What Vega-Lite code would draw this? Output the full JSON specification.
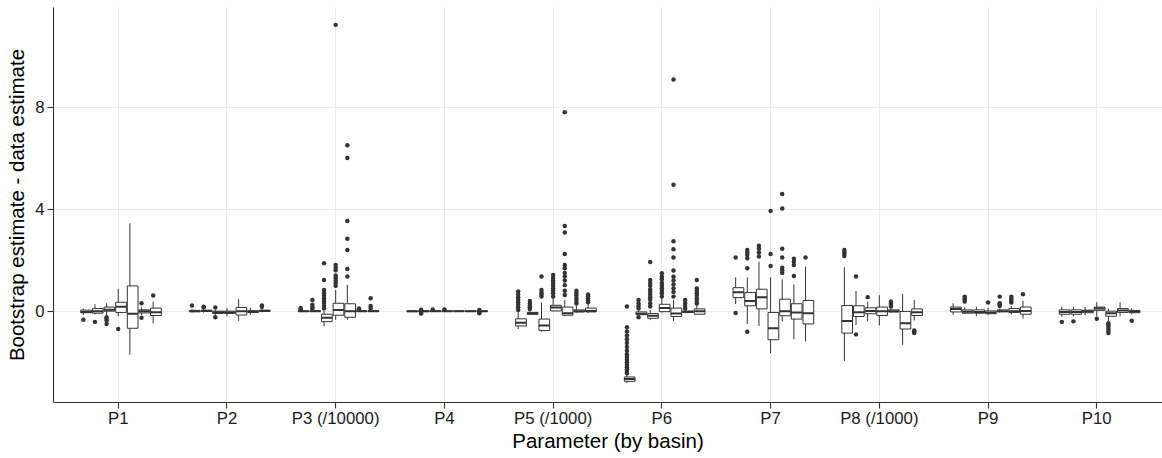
{
  "$schema": "https://vega.github.io/schema/vega-lite/v6.json",
  "width": 1109,
  "height": 395,
  "autosize": {"type": "none"},
  "padding": {"left": 53, "top": 7, "right": 0, "bottom": 56},
  "background": "white",
  "config": {
    "view": {"stroke": null},
    "font": "Liberation Sans",
    "axis": {
      "domainColor": "#333333",
      "domainWidth": 1.1,
      "tickColor": "#333333",
      "tickSize": 6,
      "tickWidth": 1.1,
      "gridColor": "#ebebeb",
      "gridWidth": 1,
      "labelColor": "#1a1a1a",
      "labelFontSize": 16.8,
      "labelFont": "Liberation Sans",
      "titleFont": "Liberation Sans",
      "titleFontSize": 20.5,
      "titleFontWeight": "normal",
      "titleColor": "#000000"
    }
  },
  "datasets": {
    "boxes": [
      {"param": "P1", "basin": "B1", "lo": -0.15, "q1": -0.06, "med": -0.03, "q3": 0.04, "hi": 0.1},
      {"param": "P1", "basin": "B2", "lo": -0.13, "q1": -0.08, "med": 0.0, "q3": 0.1, "hi": 0.27},
      {"param": "P1", "basin": "B3", "lo": -0.15, "q1": 0.0, "med": 0.06, "q3": 0.16, "hi": 0.31},
      {"param": "P1", "basin": "B4", "lo": -0.21, "q1": -0.05, "med": 0.17, "q3": 0.35, "hi": 0.87},
      {"param": "P1", "basin": "B5", "lo": -1.71, "q1": -0.67, "med": -0.1, "q3": 0.99, "hi": 3.44},
      {"param": "P1", "basin": "B6", "lo": -0.15, "q1": -0.07, "med": 0.0, "q3": 0.05, "hi": 0.15},
      {"param": "P1", "basin": "B7", "lo": -0.47, "q1": -0.17, "med": -0.04, "q3": 0.12, "hi": 0.38},
      {"param": "P2", "basin": "B1", "lo": -0.05, "q1": -0.02, "med": 0.0, "q3": 0.03, "hi": 0.08},
      {"param": "P2", "basin": "B2", "lo": -0.06, "q1": -0.01, "med": 0.01, "q3": 0.04, "hi": 0.1},
      {"param": "P2", "basin": "B3", "lo": -0.15, "q1": -0.09, "med": -0.04, "q3": 0.0, "hi": 0.05},
      {"param": "P2", "basin": "B4", "lo": -0.2, "q1": -0.09, "med": -0.05, "q3": 0.0, "hi": 0.13},
      {"param": "P2", "basin": "B5", "lo": -0.38, "q1": -0.15, "med": 0.0, "q3": 0.14, "hi": 0.47},
      {"param": "P2", "basin": "B6", "lo": -0.15, "q1": -0.05, "med": -0.02, "q3": 0.02, "hi": 0.14},
      {"param": "P2", "basin": "B7", "lo": -0.04, "q1": -0.01, "med": 0.01, "q3": 0.04, "hi": 0.1},
      {"param": "P3 (/10000)", "basin": "B1", "lo": -0.02, "q1": -0.01, "med": 0.0, "q3": 0.01, "hi": 0.03},
      {"param": "P3 (/10000)", "basin": "B2", "lo": -0.02, "q1": -0.01, "med": 0.0, "q3": 0.02, "hi": 0.05},
      {"param": "P3 (/10000)", "basin": "B3", "lo": -0.6, "q1": -0.41, "med": -0.26, "q3": -0.12, "hi": 0.0},
      {"param": "P3 (/10000)", "basin": "B4", "lo": -0.34, "q1": -0.16, "med": 0.05, "q3": 0.31, "hi": 0.83},
      {"param": "P3 (/10000)", "basin": "B5", "lo": -0.34, "q1": -0.24, "med": 0.0, "q3": 0.29, "hi": 1.03},
      {"param": "P3 (/10000)", "basin": "B6", "lo": -0.02, "q1": -0.01, "med": 0.0, "q3": 0.01, "hi": 0.03},
      {"param": "P3 (/10000)", "basin": "B7", "lo": -0.02, "q1": -0.01, "med": 0.0, "q3": 0.02, "hi": 0.05},
      {"param": "P4", "basin": "B1", "lo": -0.04, "q1": -0.02, "med": 0.0, "q3": 0.01, "hi": 0.03},
      {"param": "P4", "basin": "B2", "lo": -0.05, "q1": -0.02, "med": 0.0, "q3": 0.02, "hi": 0.04},
      {"param": "P4", "basin": "B3", "lo": -0.03, "q1": -0.01, "med": 0.0, "q3": 0.01, "hi": 0.03},
      {"param": "P4", "basin": "B4", "lo": -0.03, "q1": -0.01, "med": 0.0, "q3": 0.01, "hi": 0.03},
      {"param": "P4", "basin": "B5", "lo": -0.02, "q1": -0.01, "med": 0.0, "q3": 0.01, "hi": 0.02},
      {"param": "P4", "basin": "B6", "lo": -0.02, "q1": -0.01, "med": 0.0, "q3": 0.01, "hi": 0.02},
      {"param": "P4", "basin": "B7", "lo": -0.03, "q1": -0.01, "med": 0.0, "q3": 0.01, "hi": 0.03},
      {"param": "P5 (/1000)", "basin": "B1", "lo": -0.7, "q1": -0.58, "med": -0.45, "q3": -0.3, "hi": -0.02},
      {"param": "P5 (/1000)", "basin": "B2", "lo": -0.15, "q1": -0.12, "med": -0.09, "q3": -0.05, "hi": 0.0},
      {"param": "P5 (/1000)", "basin": "B3", "lo": -0.8, "q1": -0.76, "med": -0.56, "q3": -0.31, "hi": 0.34},
      {"param": "P5 (/1000)", "basin": "B4", "lo": 0.0, "q1": 0.01, "med": 0.14, "q3": 0.23, "hi": 0.5},
      {"param": "P5 (/1000)", "basin": "B5", "lo": -0.2, "q1": -0.16, "med": -0.08, "q3": 0.16, "hi": 0.44},
      {"param": "P5 (/1000)", "basin": "B6", "lo": -0.05, "q1": -0.03, "med": 0.0, "q3": 0.05, "hi": 0.2},
      {"param": "P5 (/1000)", "basin": "B7", "lo": -0.07, "q1": -0.03, "med": 0.01, "q3": 0.12, "hi": 0.3},
      {"param": "P6", "basin": "B1", "lo": -2.83, "q1": -2.75, "med": -2.66, "q3": -2.58, "hi": -2.5},
      {"param": "P6", "basin": "B2", "lo": -0.2, "q1": -0.14, "med": -0.1, "q3": -0.03, "hi": 0.02},
      {"param": "P6", "basin": "B3", "lo": -0.35, "q1": -0.28, "med": -0.18, "q3": -0.09, "hi": 0.05},
      {"param": "P6", "basin": "B4", "lo": -0.05, "q1": -0.02, "med": 0.12, "q3": 0.27, "hi": 0.5},
      {"param": "P6", "basin": "B5", "lo": -0.38, "q1": -0.21, "med": -0.09, "q3": 0.12, "hi": 0.44},
      {"param": "P6", "basin": "B6", "lo": -0.08, "q1": -0.05, "med": -0.02, "q3": 0.0, "hi": 0.05},
      {"param": "P6", "basin": "B7", "lo": -0.12, "q1": -0.12, "med": 0.0, "q3": 0.09, "hi": 0.25},
      {"param": "P7", "basin": "B1", "lo": 0.28, "q1": 0.53, "med": 0.74, "q3": 0.92, "hi": 1.32},
      {"param": "P7", "basin": "B2", "lo": -0.5, "q1": 0.21, "med": 0.4, "q3": 0.73, "hi": 1.32},
      {"param": "P7", "basin": "B3", "lo": -0.58, "q1": 0.09, "med": 0.55, "q3": 0.86, "hi": 1.94},
      {"param": "P7", "basin": "B4", "lo": -1.65, "q1": -1.12, "med": -0.67, "q3": -0.05, "hi": 1.32},
      {"param": "P7", "basin": "B5", "lo": -0.4, "q1": -0.18, "med": 0.0, "q3": 0.47, "hi": 1.25},
      {"param": "P7", "basin": "B6", "lo": -1.1, "q1": -0.31, "med": -0.05, "q3": 0.29, "hi": 1.05},
      {"param": "P7", "basin": "B7", "lo": -1.19, "q1": -0.5, "med": -0.08, "q3": 0.42, "hi": 1.75},
      {"param": "P8 (/1000)", "basin": "B1", "lo": -1.95, "q1": -0.86, "med": -0.39, "q3": 0.22, "hi": 1.72},
      {"param": "P8 (/1000)", "basin": "B2", "lo": -0.54, "q1": -0.21, "med": -0.04, "q3": 0.21, "hi": 0.79},
      {"param": "P8 (/1000)", "basin": "B3", "lo": -0.4, "q1": -0.1, "med": 0.01, "q3": 0.13, "hi": 0.38},
      {"param": "P8 (/1000)", "basin": "B4", "lo": -0.56, "q1": -0.17, "med": 0.0, "q3": 0.16, "hi": 0.63},
      {"param": "P8 (/1000)", "basin": "B5", "lo": -0.05, "q1": -0.03, "med": 0.0, "q3": 0.05, "hi": 0.1},
      {"param": "P8 (/1000)", "basin": "B6", "lo": -1.32, "q1": -0.7, "med": -0.47, "q3": -0.01, "hi": 0.67},
      {"param": "P8 (/1000)", "basin": "B7", "lo": -0.36, "q1": -0.17, "med": -0.04, "q3": 0.09, "hi": 0.44},
      {"param": "P9", "basin": "B1", "lo": -0.14, "q1": -0.03, "med": 0.08, "q3": 0.16, "hi": 0.31},
      {"param": "P9", "basin": "B2", "lo": -0.1, "q1": -0.08, "med": -0.02, "q3": 0.05, "hi": 0.15},
      {"param": "P9", "basin": "B3", "lo": -0.2, "q1": -0.08, "med": -0.03, "q3": 0.05, "hi": 0.18},
      {"param": "P9", "basin": "B4", "lo": -0.14, "q1": -0.1, "med": -0.05, "q3": 0.01, "hi": 0.12},
      {"param": "P9", "basin": "B5", "lo": -0.05, "q1": -0.02, "med": 0.0, "q3": 0.05, "hi": 0.1},
      {"param": "P9", "basin": "B6", "lo": -0.12, "q1": -0.05, "med": 0.0, "q3": 0.1, "hi": 0.2},
      {"param": "P9", "basin": "B7", "lo": -0.29, "q1": -0.12, "med": 0.01, "q3": 0.16, "hi": 0.41},
      {"param": "P10", "basin": "B1", "lo": -0.22, "q1": -0.12, "med": -0.03, "q3": 0.05, "hi": 0.18},
      {"param": "P10", "basin": "B2", "lo": -0.2, "q1": -0.12, "med": -0.03, "q3": 0.05, "hi": 0.18},
      {"param": "P10", "basin": "B3", "lo": -0.16, "q1": -0.06, "med": 0.0, "q3": 0.04, "hi": 0.16},
      {"param": "P10", "basin": "B4", "lo": -0.2, "q1": 0.03, "med": 0.1, "q3": 0.16, "hi": 0.35},
      {"param": "P10", "basin": "B5", "lo": -0.4, "q1": -0.2, "med": -0.08, "q3": 0.0, "hi": 0.1},
      {"param": "P10", "basin": "B6", "lo": -0.2, "q1": -0.05, "med": 0.03, "q3": 0.1, "hi": 0.35},
      {"param": "P10", "basin": "B7", "lo": -0.12, "q1": -0.06, "med": -0.01, "q3": 0.03, "hi": 0.12}
    ],
    "outliers": [
      {"param": "P1", "basin": "B1", "v": -0.34},
      {"param": "P1", "basin": "B2", "v": -0.42},
      {"param": "P1", "basin": "B3", "v": -0.24},
      {"param": "P1", "basin": "B3", "v": -0.3},
      {"param": "P1", "basin": "B3", "v": -0.37},
      {"param": "P1", "basin": "B3", "v": -0.5},
      {"param": "P1", "basin": "B4", "v": -0.7},
      {"param": "P1", "basin": "B6", "v": 0.31},
      {"param": "P1", "basin": "B6", "v": -0.26},
      {"param": "P1", "basin": "B7", "v": 0.61},
      {"param": "P2", "basin": "B1", "v": 0.22},
      {"param": "P2", "basin": "B2", "v": 0.17},
      {"param": "P2", "basin": "B2", "v": 0.15},
      {"param": "P2", "basin": "B3", "v": 0.14},
      {"param": "P2", "basin": "B3", "v": -0.24},
      {"param": "P2", "basin": "B7", "v": 0.22},
      {"param": "P2", "basin": "B7", "v": 0.17},
      {"param": "P3 (/10000)", "basin": "B1", "v": 0.06},
      {"param": "P3 (/10000)", "basin": "B1", "v": 0.09},
      {"param": "P3 (/10000)", "basin": "B1", "v": 0.12},
      {"param": "P3 (/10000)", "basin": "B2", "v": 0.1},
      {"param": "P3 (/10000)", "basin": "B2", "v": 0.15},
      {"param": "P3 (/10000)", "basin": "B2", "v": 0.25},
      {"param": "P3 (/10000)", "basin": "B2", "v": 0.44},
      {"param": "P3 (/10000)", "basin": "B3", "v": 0.1},
      {"param": "P3 (/10000)", "basin": "B3", "v": 0.2},
      {"param": "P3 (/10000)", "basin": "B3", "v": 0.32},
      {"param": "P3 (/10000)", "basin": "B3", "v": 0.4},
      {"param": "P3 (/10000)", "basin": "B3", "v": 0.5},
      {"param": "P3 (/10000)", "basin": "B3", "v": 0.6},
      {"param": "P3 (/10000)", "basin": "B3", "v": 0.7},
      {"param": "P3 (/10000)", "basin": "B3", "v": 0.83},
      {"param": "P3 (/10000)", "basin": "B3", "v": 1.22},
      {"param": "P3 (/10000)", "basin": "B3", "v": 1.88},
      {"param": "P3 (/10000)", "basin": "B4", "v": 1.0},
      {"param": "P3 (/10000)", "basin": "B4", "v": 1.1},
      {"param": "P3 (/10000)", "basin": "B4", "v": 1.2},
      {"param": "P3 (/10000)", "basin": "B4", "v": 1.3},
      {"param": "P3 (/10000)", "basin": "B4", "v": 1.4},
      {"param": "P3 (/10000)", "basin": "B4", "v": 1.6},
      {"param": "P3 (/10000)", "basin": "B4", "v": 1.7},
      {"param": "P3 (/10000)", "basin": "B4", "v": 1.81},
      {"param": "P3 (/10000)", "basin": "B4", "v": 11.22},
      {"param": "P3 (/10000)", "basin": "B5", "v": 1.36},
      {"param": "P3 (/10000)", "basin": "B5", "v": 1.65},
      {"param": "P3 (/10000)", "basin": "B5", "v": 2.4},
      {"param": "P3 (/10000)", "basin": "B5", "v": 2.84},
      {"param": "P3 (/10000)", "basin": "B5", "v": 3.53},
      {"param": "P3 (/10000)", "basin": "B5", "v": 6.0},
      {"param": "P3 (/10000)", "basin": "B5", "v": 6.5},
      {"param": "P3 (/10000)", "basin": "B6", "v": 0.07},
      {"param": "P3 (/10000)", "basin": "B6", "v": 0.1},
      {"param": "P3 (/10000)", "basin": "B7", "v": 0.1},
      {"param": "P3 (/10000)", "basin": "B7", "v": 0.2},
      {"param": "P3 (/10000)", "basin": "B7", "v": 0.51},
      {"param": "P4", "basin": "B2", "v": -0.07},
      {"param": "P4", "basin": "B2", "v": -0.09},
      {"param": "P4", "basin": "B2", "v": 0.06},
      {"param": "P4", "basin": "B3", "v": 0.07},
      {"param": "P4", "basin": "B4", "v": 0.07},
      {"param": "P4", "basin": "B7", "v": -0.06},
      {"param": "P4", "basin": "B7", "v": -0.08},
      {"param": "P4", "basin": "B7", "v": 0.05},
      {"param": "P5 (/1000)", "basin": "B1", "v": 0.05},
      {"param": "P5 (/1000)", "basin": "B1", "v": 0.15},
      {"param": "P5 (/1000)", "basin": "B1", "v": 0.25},
      {"param": "P5 (/1000)", "basin": "B1", "v": 0.35},
      {"param": "P5 (/1000)", "basin": "B1", "v": 0.45},
      {"param": "P5 (/1000)", "basin": "B1", "v": 0.55},
      {"param": "P5 (/1000)", "basin": "B1", "v": 0.65},
      {"param": "P5 (/1000)", "basin": "B1", "v": 0.77},
      {"param": "P5 (/1000)", "basin": "B2", "v": 0.08},
      {"param": "P5 (/1000)", "basin": "B2", "v": 0.15},
      {"param": "P5 (/1000)", "basin": "B2", "v": 0.22},
      {"param": "P5 (/1000)", "basin": "B2", "v": 0.3},
      {"param": "P5 (/1000)", "basin": "B2", "v": 0.4},
      {"param": "P5 (/1000)", "basin": "B3", "v": 0.57},
      {"param": "P5 (/1000)", "basin": "B3", "v": 0.65},
      {"param": "P5 (/1000)", "basin": "B3", "v": 0.72},
      {"param": "P5 (/1000)", "basin": "B3", "v": 0.83},
      {"param": "P5 (/1000)", "basin": "B3", "v": 1.36},
      {"param": "P5 (/1000)", "basin": "B4", "v": 0.57},
      {"param": "P5 (/1000)", "basin": "B4", "v": 0.7},
      {"param": "P5 (/1000)", "basin": "B4", "v": 0.8},
      {"param": "P5 (/1000)", "basin": "B4", "v": 0.9},
      {"param": "P5 (/1000)", "basin": "B4", "v": 1.0},
      {"param": "P5 (/1000)", "basin": "B4", "v": 1.1},
      {"param": "P5 (/1000)", "basin": "B4", "v": 1.2},
      {"param": "P5 (/1000)", "basin": "B4", "v": 1.3},
      {"param": "P5 (/1000)", "basin": "B4", "v": 1.42},
      {"param": "P5 (/1000)", "basin": "B5", "v": 0.63},
      {"param": "P5 (/1000)", "basin": "B5", "v": 0.8},
      {"param": "P5 (/1000)", "basin": "B5", "v": 1.02},
      {"param": "P5 (/1000)", "basin": "B5", "v": 1.2},
      {"param": "P5 (/1000)", "basin": "B5", "v": 1.36},
      {"param": "P5 (/1000)", "basin": "B5", "v": 1.5},
      {"param": "P5 (/1000)", "basin": "B5", "v": 1.68},
      {"param": "P5 (/1000)", "basin": "B5", "v": 1.81},
      {"param": "P5 (/1000)", "basin": "B5", "v": 2.24},
      {"param": "P5 (/1000)", "basin": "B5", "v": 3.08},
      {"param": "P5 (/1000)", "basin": "B5", "v": 3.34},
      {"param": "P5 (/1000)", "basin": "B5", "v": 7.8},
      {"param": "P5 (/1000)", "basin": "B6", "v": 0.3},
      {"param": "P5 (/1000)", "basin": "B6", "v": 0.4},
      {"param": "P5 (/1000)", "basin": "B6", "v": 0.5},
      {"param": "P5 (/1000)", "basin": "B6", "v": 0.6},
      {"param": "P5 (/1000)", "basin": "B6", "v": 0.7},
      {"param": "P5 (/1000)", "basin": "B6", "v": 0.8},
      {"param": "P5 (/1000)", "basin": "B7", "v": 0.35},
      {"param": "P5 (/1000)", "basin": "B7", "v": 0.42},
      {"param": "P5 (/1000)", "basin": "B7", "v": 0.5},
      {"param": "P5 (/1000)", "basin": "B7", "v": 0.58},
      {"param": "P5 (/1000)", "basin": "B7", "v": 0.65},
      {"param": "P6", "basin": "B1", "v": -2.43},
      {"param": "P6", "basin": "B1", "v": -2.35},
      {"param": "P6", "basin": "B1", "v": -2.28},
      {"param": "P6", "basin": "B1", "v": -2.2},
      {"param": "P6", "basin": "B1", "v": -2.1},
      {"param": "P6", "basin": "B1", "v": -2.0},
      {"param": "P6", "basin": "B1", "v": -1.9},
      {"param": "P6", "basin": "B1", "v": -1.8},
      {"param": "P6", "basin": "B1", "v": -1.7},
      {"param": "P6", "basin": "B1", "v": -1.55},
      {"param": "P6", "basin": "B1", "v": -1.4},
      {"param": "P6", "basin": "B1", "v": -1.25},
      {"param": "P6", "basin": "B1", "v": -1.1},
      {"param": "P6", "basin": "B1", "v": -0.95},
      {"param": "P6", "basin": "B1", "v": -0.8},
      {"param": "P6", "basin": "B1", "v": -0.63},
      {"param": "P6", "basin": "B1", "v": 0.18},
      {"param": "P6", "basin": "B2", "v": 0.1},
      {"param": "P6", "basin": "B2", "v": 0.2},
      {"param": "P6", "basin": "B2", "v": 0.3},
      {"param": "P6", "basin": "B2", "v": 0.44},
      {"param": "P6", "basin": "B2", "v": -0.24},
      {"param": "P6", "basin": "B3", "v": 0.18},
      {"param": "P6", "basin": "B3", "v": 0.3},
      {"param": "P6", "basin": "B3", "v": 0.45},
      {"param": "P6", "basin": "B3", "v": 0.55},
      {"param": "P6", "basin": "B3", "v": 0.65},
      {"param": "P6", "basin": "B3", "v": 0.75},
      {"param": "P6", "basin": "B3", "v": 0.85},
      {"param": "P6", "basin": "B3", "v": 1.0},
      {"param": "P6", "basin": "B3", "v": 1.1},
      {"param": "P6", "basin": "B3", "v": 1.22},
      {"param": "P6", "basin": "B3", "v": 1.93},
      {"param": "P6", "basin": "B4", "v": 0.57},
      {"param": "P6", "basin": "B4", "v": 0.7},
      {"param": "P6", "basin": "B4", "v": 0.8},
      {"param": "P6", "basin": "B4", "v": 0.9},
      {"param": "P6", "basin": "B4", "v": 1.0},
      {"param": "P6", "basin": "B4", "v": 1.1},
      {"param": "P6", "basin": "B4", "v": 1.25},
      {"param": "P6", "basin": "B4", "v": 1.35},
      {"param": "P6", "basin": "B4", "v": 1.49},
      {"param": "P6", "basin": "B5", "v": 0.57},
      {"param": "P6", "basin": "B5", "v": 0.75},
      {"param": "P6", "basin": "B5", "v": 0.9},
      {"param": "P6", "basin": "B5", "v": 1.05},
      {"param": "P6", "basin": "B5", "v": 1.2},
      {"param": "P6", "basin": "B5", "v": 1.35},
      {"param": "P6", "basin": "B5", "v": 1.59},
      {"param": "P6", "basin": "B5", "v": 2.1},
      {"param": "P6", "basin": "B5", "v": 2.43},
      {"param": "P6", "basin": "B5", "v": 2.74},
      {"param": "P6", "basin": "B5", "v": 4.95},
      {"param": "P6", "basin": "B5", "v": 9.08},
      {"param": "P6", "basin": "B6", "v": 0.1},
      {"param": "P6", "basin": "B6", "v": 0.2},
      {"param": "P6", "basin": "B6", "v": 0.3},
      {"param": "P6", "basin": "B6", "v": 0.44},
      {"param": "P6", "basin": "B7", "v": 0.3},
      {"param": "P6", "basin": "B7", "v": 0.4},
      {"param": "P6", "basin": "B7", "v": 0.5},
      {"param": "P6", "basin": "B7", "v": 0.6},
      {"param": "P6", "basin": "B7", "v": 0.7},
      {"param": "P6", "basin": "B7", "v": 0.8},
      {"param": "P6", "basin": "B7", "v": 0.89},
      {"param": "P6", "basin": "B7", "v": 1.22},
      {"param": "P7", "basin": "B1", "v": -0.07},
      {"param": "P7", "basin": "B1", "v": 2.1},
      {"param": "P7", "basin": "B2", "v": 1.68},
      {"param": "P7", "basin": "B2", "v": 2.07},
      {"param": "P7", "basin": "B2", "v": 2.2},
      {"param": "P7", "basin": "B2", "v": 2.3},
      {"param": "P7", "basin": "B2", "v": 2.4},
      {"param": "P7", "basin": "B2", "v": -0.81},
      {"param": "P7", "basin": "B3", "v": 2.14},
      {"param": "P7", "basin": "B3", "v": 2.3},
      {"param": "P7", "basin": "B3", "v": 2.45},
      {"param": "P7", "basin": "B3", "v": 2.56},
      {"param": "P7", "basin": "B4", "v": 1.77},
      {"param": "P7", "basin": "B4", "v": 2.24},
      {"param": "P7", "basin": "B4", "v": 3.93},
      {"param": "P7", "basin": "B5", "v": 1.5},
      {"param": "P7", "basin": "B5", "v": 1.6},
      {"param": "P7", "basin": "B5", "v": 1.7},
      {"param": "P7", "basin": "B5", "v": 2.1},
      {"param": "P7", "basin": "B5", "v": 2.45},
      {"param": "P7", "basin": "B5", "v": 4.02},
      {"param": "P7", "basin": "B5", "v": 4.59},
      {"param": "P7", "basin": "B6", "v": 1.38},
      {"param": "P7", "basin": "B6", "v": 1.81},
      {"param": "P7", "basin": "B6", "v": 1.95},
      {"param": "P7", "basin": "B6", "v": 2.05},
      {"param": "P7", "basin": "B7", "v": 2.1},
      {"param": "P8 (/1000)", "basin": "B1", "v": 2.16},
      {"param": "P8 (/1000)", "basin": "B1", "v": 2.25},
      {"param": "P8 (/1000)", "basin": "B1", "v": 2.33},
      {"param": "P8 (/1000)", "basin": "B1", "v": 2.4},
      {"param": "P8 (/1000)", "basin": "B2", "v": 1.36},
      {"param": "P8 (/1000)", "basin": "B2", "v": -0.91},
      {"param": "P8 (/1000)", "basin": "B3", "v": 0.55},
      {"param": "P8 (/1000)", "basin": "B5", "v": 0.18},
      {"param": "P8 (/1000)", "basin": "B5", "v": 0.25},
      {"param": "P8 (/1000)", "basin": "B5", "v": 0.3},
      {"param": "P8 (/1000)", "basin": "B5", "v": 0.38},
      {"param": "P8 (/1000)", "basin": "B7", "v": -0.76},
      {"param": "P8 (/1000)", "basin": "B7", "v": -0.8},
      {"param": "P8 (/1000)", "basin": "B7", "v": -0.86},
      {"param": "P9", "basin": "B2", "v": 0.38},
      {"param": "P9", "basin": "B2", "v": 0.45},
      {"param": "P9", "basin": "B2", "v": 0.5},
      {"param": "P9", "basin": "B2", "v": 0.57},
      {"param": "P9", "basin": "B4", "v": 0.34},
      {"param": "P9", "basin": "B5", "v": 0.2},
      {"param": "P9", "basin": "B5", "v": 0.27},
      {"param": "P9", "basin": "B5", "v": 0.31},
      {"param": "P9", "basin": "B5", "v": 0.57},
      {"param": "P9", "basin": "B6", "v": 0.34},
      {"param": "P9", "basin": "B6", "v": 0.42},
      {"param": "P9", "basin": "B6", "v": 0.5},
      {"param": "P9", "basin": "B6", "v": 0.57},
      {"param": "P9", "basin": "B7", "v": 0.66},
      {"param": "P10", "basin": "B1", "v": -0.42},
      {"param": "P10", "basin": "B2", "v": -0.4},
      {"param": "P10", "basin": "B4", "v": -0.3},
      {"param": "P10", "basin": "B5", "v": -0.47},
      {"param": "P10", "basin": "B5", "v": -0.55},
      {"param": "P10", "basin": "B5", "v": -0.62},
      {"param": "P10", "basin": "B5", "v": -0.7},
      {"param": "P10", "basin": "B5", "v": -0.78},
      {"param": "P10", "basin": "B5", "v": -0.86},
      {"param": "P10", "basin": "B7", "v": -0.38}
    ]
  },
  "encoding": {
    "x": {
      "field": "param",
      "type": "nominal",
      "sort": ["P1", "P2", "P3 (/10000)", "P4", "P5 (/1000)", "P6", "P7", "P8 (/1000)", "P9", "P10"],
      "scale": {
        "domain": ["P1", "P2", "P3 (/10000)", "P4", "P5 (/1000)", "P6", "P7", "P8 (/1000)", "P9", "P10"],
        "paddingInner": 0.25,
        "paddingOuter": 0.225
      },
      "axis": {
        "title": "Parameter (by basin)",
        "labelAngle": 0,
        "grid": true,
        "bandPosition": 0.5,
        "labelPadding": 2,
        "titlePadding": 5
      }
    },
    "xOffset": {
      "field": "basin",
      "type": "nominal",
      "scale": {"domain": ["B1", "B2", "B3", "B4", "B5", "B6", "B7"], "paddingInner": 0, "paddingOuter": 0}
    }
  },
  "layer": [
    {
      "data": {"name": "boxes"},
      "mark": {"type": "rule", "color": "#333333", "strokeWidth": 1},
      "encoding": {
        "y": {
          "field": "lo",
          "type": "quantitative",
          "scale": {"domain": [-3.56, 11.92], "nice": false, "zero": false},
          "axis": {
            "title": "Bootstrap estimate - data estimate",
            "values": [0, 4, 8],
            "grid": true,
            "labelPadding": 3,
            "titlePadding": 7
          }
        },
        "y2": {"field": "hi"}
      }
    },
    {
      "data": {"name": "boxes"},
      "mark": {"type": "bar", "fill": "white", "stroke": "#333333", "strokeWidth": 1, "width": {"band": 0.92}},
      "encoding": {
        "y": {"field": "q1", "type": "quantitative"},
        "y2": {"field": "q3"}
      }
    },
    {
      "data": {"name": "boxes"},
      "mark": {"type": "bar", "fill": "#333333", "stroke": "#333333", "strokeWidth": 2, "width": {"band": 0.92}},
      "encoding": {
        "y": {"field": "med", "type": "quantitative"},
        "y2": {"field": "med"}
      }
    },
    {
      "data": {"name": "outliers"},
      "mark": {"type": "point", "filled": true, "color": "#333333", "opacity": 1, "size": 20},
      "encoding": {
        "y": {"field": "v", "type": "quantitative"}
      }
    }
  ]
}
